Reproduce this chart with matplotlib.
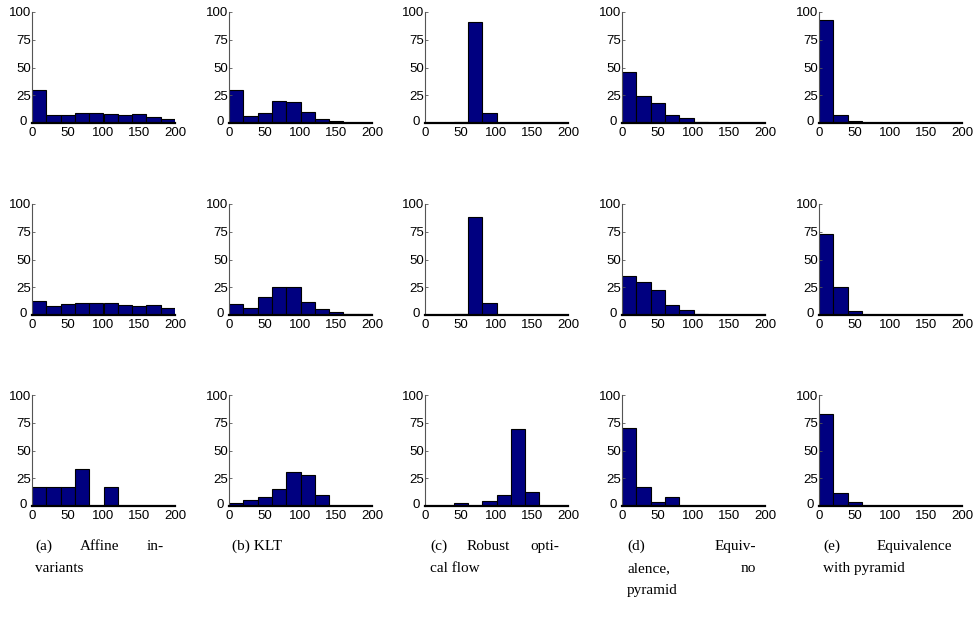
import matplotlib
matplotlib.use('Agg')
import matplotlib.pyplot as plt
import matplotlib.transforms as mtransforms
import numpy as np

# bin edges (width 20, 0..200)
bin_edges = np.arange(0, 201, 20)

# percentages per bin; rows = sequences, cols = methods
affine_r1 = [30, 7, 7, 9, 9, 8, 7, 8, 5, 4]
klt_r1 = [30, 6, 9, 19.5, 19, 10, 4, 2, 0.3, 0.3]
robust_r1 = [0, 0, 0.5, 91, 8.7, 0, 0, 0, 0, 0]
equiv_r1 = [45.5, 24, 18, 7, 4.5, 0.6, 0.2, 0.2, 0.2, 0.2]
pyramid_r1 = [93, 7, 1.5, 0.3, 0.3, 0.3, 0.3, 0.3, 0.3, 0.3]

affine_r2 = [12.5, 8, 10, 11, 10.5, 10.5, 8.7, 7.8, 8.7, 6.3]
klt_r2 = [9.5, 6.3, 15.8, 25, 24.8, 12, 5, 2.7, 1, 0.5]
robust_r2 = [0, 0, 0.5, 88, 11, 0, 0, 0, 0, 0]
equiv_r2 = [35, 30, 22.4, 9, 4.2, 1.2, 0.3, 0.3, 0.3, 0.3]
pyramid_r2 = [73, 25, 3.3, 0.3, 0.3, 0.3, 0.3, 0.3, 0.3, 0.3]

affine_r3 = [16.7, 16.7, 16.7, 33.3, 0, 16.7, 0, 0, 0, 0]
klt_r3 = [2.4, 5, 8, 15.5, 31, 28, 10, 0, 0, 0]
robust_r3 = [0, 0, 2.4, 0, 4.8, 10, 69.6, 12.8, 0, 0]
equiv_r3 = [70, 17, 4, 8, 0, 0, 0, 0, 0, 0]
pyramid_r3 = [83, 12, 4, 0, 0, 0, 0, 0, 0, 0]

rows = [
    [affine_r1, klt_r1, robust_r1, equiv_r1, pyramid_r1],
    [affine_r2, klt_r2, robust_r2, equiv_r2, pyramid_r2],
    [affine_r3, klt_r3, robust_r3, equiv_r3, pyramid_r3],
]

yticks = [0, 25, 50, 75, 100]
xticks = [0, 50, 100, 150, 200]

# caption lines: (words, justified?)
captions = [
    [(['(a)', 'Affine', 'in-'], True), (['variants'], False)],
    [(['(b)', 'KLT'], False)],
    [(['(c)', 'Robust', 'opti-'], True), (['cal', 'flow'], False)],
    [(['(d)', 'Equiv-'], True), (['alence,', 'no'], True), (['pyramid'], False)],
    [(['(e)', 'Equivalence'], True), (['with', 'pyramid'], False)],
]

W, H = 975, 639
fig = plt.figure(figsize=(W / 100, H / 100), dpi=100)

col_left = [32, 229, 425, 622, 819]
row_top = [12, 204, 395]
ax_w, ax_h = 143, 111

# small nudge so the y "0" does not sit on top of the x "0"
nudge = mtransforms.ScaledTranslation(-3 / 72, 1.5 / 72, fig.dpi_scale_trans)

for r, row in enumerate(rows):
    for c, vals in enumerate(row):
        ax = fig.add_axes([col_left[c] / W, 1 - (row_top[r] + ax_h) / H, ax_w / W, ax_h / H])
        ax.bar(bin_edges[:-1], vals, width=20, align='edge',
               color='#000080', edgecolor='black', linewidth=0.8)
        ax.set_xlim(0, 200)
        ax.set_ylim(0, 100)
        ax.set_yticks(yticks)
        ax.set_xticks(xticks)
        for s in ['top', 'right']:
            ax.spines[s].set_visible(False)
        # MATLAB draws empty bins as a black line on the baseline
        ax.spines['bottom'].set_color('black')
        ax.spines['bottom'].set_linewidth(1.6)
        ax.spines['left'].set_color('#555555')
        ax.spines['left'].set_linewidth(0.8)
        ax.tick_params(axis='y', direction='in', length=2, width=0.6, pad=0.5,
                       labelsize=9.5, color='#555555')
        ax.tick_params(axis='x', length=0, pad=3, labelsize=9.5)
        for lab in ax.get_xticklabels() + ax.get_yticklabels():
            lab.set_fontfamily('Liberation Sans')
        ylab0 = ax.get_yticklabels()[0]
        ylab0.set_transform(ylab0.get_transform() + nudge)
        ax.patch.set_visible(False)

# justified captions, laid out in pixel coordinates
renderer = fig.canvas.get_renderer()
cap_left = [35, 232, 430, 627, 823]
cap_width = 129
baselines = [550, 572, 594]
cap_font = dict(family='Liberation Serif', size=11)

for c, lines in enumerate(captions):
    x0 = cap_left[c]
    x1 = x0 + cap_width
    for i, (words, justify) in enumerate(lines):
        yb = 1 - baselines[i] / H
        if justify and len(words) > 1:
            texts = [fig.text(0, yb, w, va='baseline', **cap_font) for w in words]
            widths = [t.get_window_extent(renderer).width for t in texts]
            gap = (x1 - x0 - sum(widths)) / (len(words) - 1)
            x = x0
            for t, w in zip(texts, widths):
                t.set_x(x / W)
                x += w + gap
        else:
            fig.text(x0 / W, yb, ' '.join(words), va='baseline', **cap_font)

fig.savefig('out.png', dpi=100)
